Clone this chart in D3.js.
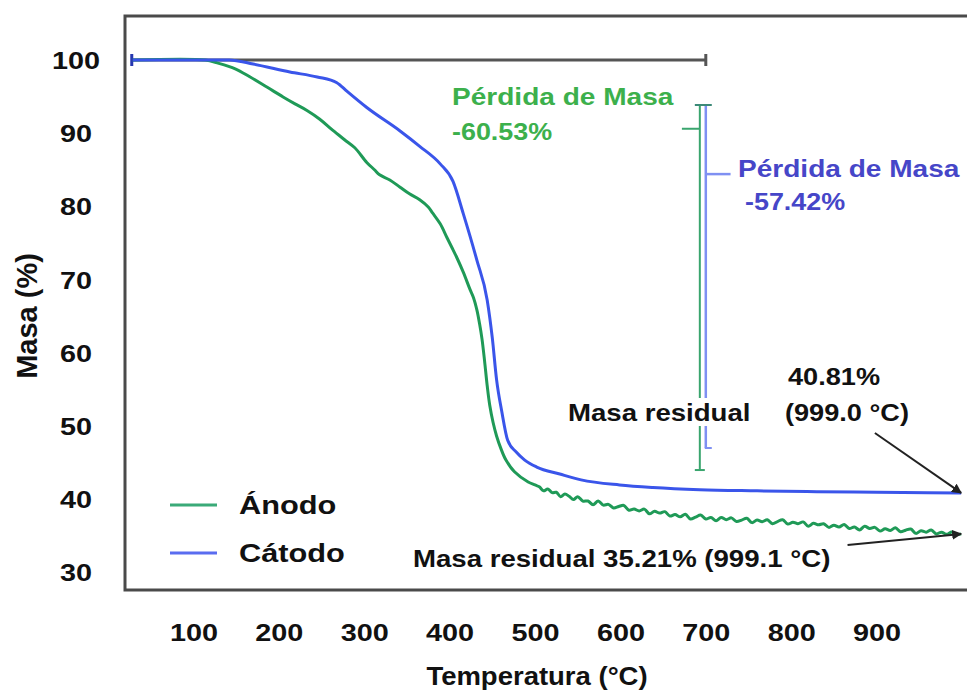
<!DOCTYPE html>
<html>
<head>
<meta charset="utf-8">
<script src="https://cdn.jsdelivr.net/npm/d3@7"></script>
<style>
  html, body { margin: 0; padding: 0; background: #fff; }
  svg { display: block; font-family: "Liberation Sans", Arial, sans-serif; font-weight: bold; }
</style>
</head>
<body>
<svg id="chart" width="967" height="694"></svg>
<script>
// TGA curves: temperature (°C) and remaining mass (%)
const cathodeTemp = [29, 142, 170, 213, 245, 268, 280, 303, 342, 365, 389, 404, 416, 432, 444, 450, 455, 461, 468, 478, 488, 502, 529, 554, 599, 638, 693, 760, 830, 900, 960, 999];
const cathodeMass = [100, 100, 99.45, 98.36, 97.68, 96.9, 95.7, 93.5, 90.3, 88.2, 85.8, 83.4, 79.0, 72.6, 67.2, 62.0, 56.3, 52.0, 48.0, 46.4, 45.3, 44.35, 43.4, 42.6, 41.9, 41.55, 41.25, 41.1, 40.98, 40.9, 40.85, 40.81];

const anodeTemp = [29, 114, 128, 149, 166, 186, 205, 219, 233, 248, 263, 277, 289, 303, 312, 318, 330, 342, 353, 365, 375, 380, 389, 397, 403, 408, 416, 424, 428, 432, 435, 438, 441, 444, 447, 451, 455, 460, 466, 476, 492,
  500, 505, 510, 515, 520, 525, 530, 535, 540, 545, 550, 556, 562, 568, 574, 580, 586, 592, 598, 604, 610, 616, 622, 628, 634, 640, 646, 652, 658, 664, 670, 676, 682, 688, 694, 700,
  706, 712, 718, 724, 730, 736, 742, 748, 754, 760, 766, 772, 778, 784, 790, 796, 802, 808, 814, 820, 826, 832, 838, 844, 850, 856, 862, 868, 874, 880, 886, 892, 898, 904,
  910, 916, 922, 928, 934, 940, 946, 952, 958, 964, 970, 976, 982, 988, 994, 999];
const anodeMass = [100, 100, 99.6, 98.8, 97.7, 96.3, 94.95, 94.0, 93.1, 91.9, 90.4, 89.1, 88.0, 86.0, 85.0, 84.3, 83.6, 82.6, 81.7, 80.9, 79.9, 79.1, 77.6, 75.7, 74.3, 73.1, 71.0, 68.6, 67.5, 65.8, 64.0, 61.8, 58.8, 55.5, 52.8, 50.4, 48.6, 46.9, 45.3, 43.7, 42.3,
  41.9, 41.65, 41.1, 41.35, 40.85, 40.9, 40.3, 40.65, 40.35, 39.9, 40.3, 39.7, 39.7, 39.2, 39.7, 39.15, 39.25, 38.75, 38.95, 39.1, 38.45, 38.6, 38.35, 38.6, 37.95, 38.3, 38.05, 38.25, 37.65, 37.85, 37.55, 37.9, 37.25, 37.5, 37.8, 37.25,
  37.45, 37.0, 37.45, 37.15, 37.4, 36.9, 37.1, 37.35, 36.75, 37.1, 36.88, 37.13, 36.6, 36.9, 37.15, 36.55, 36.8, 36.6, 36.85, 36.25, 36.65, 36.45, 36.6, 36.1, 36.4, 36.15, 36.5, 35.95, 36.15, 35.75, 36.25, 35.95, 36.1, 35.6,
  35.9, 35.68, 36.04, 35.5, 35.71, 35.87, 35.28, 35.64, 35.45, 35.75, 35.2, 35.45, 35.15, 35.47, 35.14, 35.21];

const seriesNames = ["Ánodo", "Cátodo"];
const xTicks = [100, 200, 300, 400, 500, 600, 700, 800, 900];
const yTicks = [30, 40, 50, 60, 70, 80, 90, 100];

// Annotation values
const lossAnode = "-60.53%";
const lossCathode = "-57.42%";
const residualCathode = 40.81;
const residualAnode = 35.21;

const GREEN = "#1f9a57", BLUE = "#3a55ea";
const svg = d3.select("#chart");

const x = d3.scaleLinear().domain([0, 1000]).range([108, 962]);
const y = d3.scaleLinear().domain([30, 100]).range([572, 60]);

// helper: bold text with a slightly wide horizontal stretch
function label(str, px, py, size, fill, sx, anchor) {
  return svg.append("text")
    .attr("transform", `translate(${px},${py}) scale(${sx},1)`)
    .attr("text-anchor", anchor || "start")
    .attr("font-size", size)
    .attr("fill", fill)
    .text(str);
}

// plot frame (open on the right)
svg.append("path")
  .attr("d", "M980,16 H125 V590 H980")
  .attr("fill", "none").attr("stroke", "#4a4a4a").attr("stroke-width", 3);

// axes (labels only)
const xAxis = svg.append("g").attr("transform", "translate(0,632)")
  .call(d3.axisBottom(x).tickValues(xTicks).tickSize(0).tickPadding(0).tickFormat(d3.format("d")));
xAxis.select(".domain").remove();
xAxis.selectAll("text").attr("dy", "0.36em").attr("font-size", 24).attr("fill", "#111")
  .attr("font-family", "Liberation Sans, Arial, sans-serif").attr("font-weight", "bold")
  .attr("transform", "scale(1.2,1)");

const yAxis = svg.append("g").attr("transform", "translate(76,0)")
  .call(d3.axisLeft(y).tickValues(yTicks).tickSize(0).tickPadding(0).tickFormat(d3.format("d")));
yAxis.select(".domain").remove();
yAxis.selectAll("text").attr("dy", "0.36em").attr("text-anchor", "middle").attr("font-size", 24).attr("fill", "#111")
  .attr("font-family", "Liberation Sans, Arial, sans-serif").attr("font-weight", "bold")
  .attr("transform", "scale(1.2,1)");

// axis titles
label("Temperatura (°C)", 537, 685, 25, "#111", 1.1, "middle");
svg.append("text")
  .attr("transform", "translate(37,316) rotate(-90)")
  .attr("text-anchor", "middle").attr("font-size", 29).attr("fill", "#111")
  .text("Masa (%)");

// reference line at 100 % up to 700 °C
svg.append("line").attr("x1", x(29)).attr("x2", x(700)).attr("y1", y(100)).attr("y2", y(100))
  .attr("stroke", "#555").attr("stroke-width", 3);
svg.append("line").attr("x1", x(700)).attr("x2", x(700)).attr("y1", y(100) - 6).attr("y2", y(100) + 6)
  .attr("stroke", "#555").attr("stroke-width", 3);
svg.append("line").attr("x1", x(29) - 1).attr("x2", x(29) - 1).attr("y1", y(100) - 6).attr("y2", y(100) + 6)
  .attr("stroke", "#2636b0").attr("stroke-width", 3);

// mass-loss brackets
const gB = 693, bB = 700;
svg.append("line").attr("x1", x(gB)).attr("x2", x(gB)).attr("y1", y(93.85)).attr("y2", y(43.94))
  .attr("stroke", "#3aa56e").attr("stroke-width", 2);
svg.append("line").attr("x1", x(bB)).attr("x2", x(bB)).attr("y1", y(93.85)).attr("y2", y(46.95))
  .attr("stroke", "#7f90f2").attr("stroke-width", 2.5);
svg.append("line").attr("x1", x(gB) - 5).attr("x2", x(bB) + 6).attr("y1", y(93.85)).attr("y2", y(93.85))
  .attr("stroke", "#3c8a78").attr("stroke-width", 2);
svg.append("line").attr("x1", x(gB) - 5).attr("x2", x(gB) + 5).attr("y1", y(43.94)).attr("y2", y(43.94))
  .attr("stroke", "#3aa56e").attr("stroke-width", 2);
svg.append("line").attr("x1", x(bB) - 1).attr("x2", x(bB) + 6).attr("y1", y(46.95)).attr("y2", y(46.95))
  .attr("stroke", "#7f90f2").attr("stroke-width", 2);
svg.append("line").attr("x1", x(672)).attr("x2", x(gB)).attr("y1", y(90.6)).attr("y2", y(90.6))
  .attr("stroke", "#3aa56e").attr("stroke-width", 2);
svg.append("line").attr("x1", x(bB)).attr("x2", x(729)).attr("y1", y(84.4)).attr("y2", y(84.4))
  .attr("stroke", "#7f90f2").attr("stroke-width", 2.5);

// curves
const cathode = cathodeTemp.map((t, i) => [t, cathodeMass[i]]);
const anode = anodeTemp.map((t, i) => [t, anodeMass[i]]);
svg.append("path").datum(anode)
  .attr("d", d3.line().x(d => x(d[0])).y(d => y(d[1])).curve(d3.curveCatmullRom.alpha(0.5)))
  .attr("fill", "none").attr("stroke", GREEN).attr("stroke-width", 3).attr("stroke-linejoin", "round");
svg.append("path").datum(cathode)
  .attr("d", d3.line().x(d => x(d[0])).y(d => y(d[1])).curve(d3.curveMonotoneX))
  .attr("fill", "none").attr("stroke", BLUE).attr("stroke-width", 3);

// residual mass label with white backing over the brackets
svg.append("rect").attr("x", 566).attr("y", 398).attr("width", 190).attr("height", 28).attr("fill", "#fff");
label("Masa residual", 568, 421, 23, "#111", 1.2);

// loss labels
label("Pérdida de Masa", 452, 105, 23, "#3cb04c", 1.22);
label(lossAnode, 452, 140, 23, "#3cb04c", 1.17);
label("Pérdida de Masa", 738, 177, 23, "#4646c8", 1.22);
label(lossCathode, 745, 210, 23, "#4646c8", 1.17);

// residual annotations with arrows
svg.append("defs").append("marker").attr("id", "arrow")
  .attr("viewBox", "0 0 10 10").attr("refX", 9).attr("refY", 5)
  .attr("markerWidth", 5).attr("markerHeight", 5).attr("orient", "auto")
  .append("path").attr("d", "M0,0 L10,5 L0,10 z").attr("fill", "#222");

label(residualCathode.toFixed(2) + "%", 788, 385, 23, "#111", 1.18);
label("(999.0 °C)", 785, 421, 23, "#111", 1.18);
svg.append("line").attr("x1", x(898)).attr("y1", y(49.0)).attr("x2", x(999)).attr("y2", y(residualCathode))
  .attr("stroke", "#222").attr("stroke-width", 2).attr("marker-end", "url(#arrow)");

label("Masa residual " + residualAnode.toFixed(2) + "% (999.1 °C)", 413, 567, 23, "#111", 1.2);
svg.append("line").attr("x1", x(866)).attr("y1", y(33.7)).attr("x2", x(999)).attr("y2", y(residualAnode))
  .attr("stroke", "#222").attr("stroke-width", 2).attr("marker-end", "url(#arrow)");

// legend
const legend = svg.append("g");
const legendColors = ["#3aaa78", "#5a6cf0"];
seriesNames.forEach((name, i) => {
  const ly = 505 + i * 48;
  legend.append("line").attr("x1", 170).attr("x2", 217).attr("y1", ly).attr("y2", ly)
    .attr("stroke", legendColors[i]).attr("stroke-width", 3);
  label(name, 239, ly + 9, 25, "#111", 1.23);
});
</script>
</body>
</html>
